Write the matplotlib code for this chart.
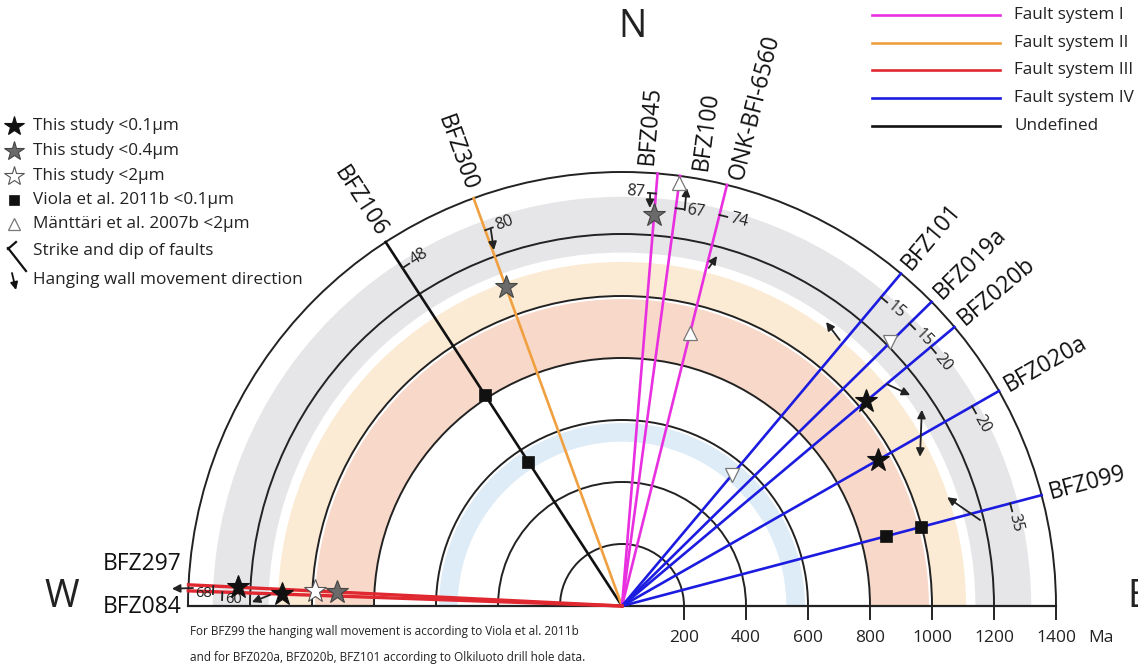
import numpy as np
import matplotlib
matplotlib.use("Agg")
import matplotlib.pyplot as plt
from matplotlib.patches import Wedge, Arc

plt.rcParams['font.family'] = ['Open Sans', 'DejaVu Sans']

# age rings (Ma) and coloured age bands
rings = [200, 400, 600, 800, 1000, 1200, 1400]
band_inner = [530, 800, 1000, 1140]
band_outer = [590, 990, 1110, 1320]
band_colors = ["#deecf8", "#f8d8c8", "#fcebd4", "#e6e6e8"]

# faults: strike azimuth (deg from N), fault system, dip
faults = ["BFZ106", "BFZ300", "BFZ045", "BFZ100", "ONK-BFI-6560", "BFZ101",
          "BFZ019a", "BFZ020b", "BFZ020a", "BFZ099", "BFZ297", "BFZ084"]
strikes = [327, 340, 4.7, 7.7, 14, 40, 45.5, 50, 60.3, 75.2, 272.8, 272.0]
systems = ["U", "II", "I", "I", "I", "IV", "IV", "IV", "IV", "IV", "III", "III"]
dips = [48, 80, 87, 67, 74, 15, 15, 20, 20, 35, 68, 60]
dip_age = [1300, 1290, 1335, 1295, 1300, 1300, 1300, 1300, 1300, 1295, 1320, 1290]
dip_side = [-1, -1, 1, -1, -1, -1, -1, -1, -1, -1, 1, 1]
# sideways nudge of the name labels (px, counter-clockwise positive)
name_shift = [0, 0, 11, -20, -8, 0, 0, 0, 0, 0, 0, 0]

sys_names = ["I", "II", "III", "IV", "U"]
sys_labels = ["Fault system I", "Fault system II", "Fault system III",
              "Fault system IV", "Undefined"]
sys_colors = ["#e830e0", "#f0a040", "#e02830", "#1c1ce0", "#111111"]

# dated samples: fault index, age (Ma), kind
sample_fault = [0, 0, 1, 2, 3, 4, 6, 5, 7, 8, 9, 9, 10, 10, 10, 11]
sample_age = [813, 555, 1094, 1265, 1378, 909, 1214, 551, 1028, 950, 880, 999,
              1240, 990, 920, 1097]
sample_kind = ["sq", "sq", "s04", "s04", "tri", "tri", "trid", "trid", "s01",
               "s01", "sq", "sq", "s01", "s2", "s04", "s01"]

# hanging wall movement arrows: (azimuth, age) start and end
arrow_from = [(340.8, 1287), (3.9, 1335), (9.0, 1293), (14.4, 1126),
              (39.3, 1109), (50.1, 1115), (76.5, 1188), (272.4, 1385),
              (271.8, 1136)]
arrow_to = [(340.2, 1220), (4.0, 1287), (8.8, 1365), (15.2, 1170),
            (35.7, 1128), (53.8, 1152), (71.5, 1106), (272.2, 1453),
            (270.6, 1194)]
double_arrows = [((56.8, 1156), (63.4, 1075))]

axis_ticks = [200, 400, 600, 800, 1000, 1200, 1400]

K = 0.31  # pixels per Ma
W, H = 1138, 665
CX, CY = 622, 606
NAME_FS = 16.5
LEG_FS = 12.3


def polar(az, age):
    a = np.radians(az)
    return age * np.sin(a), age * np.cos(a)


def pxd(x, y):
    return (x - CX) / K, (CY - y) / K


fig = plt.figure(figsize=(W / 100, H / 100), dpi=100)
ax = fig.add_axes([0, 0, 1, 1])
ax.set_xlim(-CX / K, (W - CX) / K)
ax.set_ylim(-(H - CY) / K, CY / K)
ax.axis("off")

for r0, r1, c in zip(band_inner, band_outer, band_colors):
    ax.add_patch(Wedge((0, 0), r1, 0, 180, width=r1 - r0, color=c, lw=0, zorder=1))
for r in rings:
    ax.add_patch(Arc((0, 0), 2 * r, 2 * r, theta1=0, theta2=180, color="#222222",
                     lw=1.4, zorder=2))

ax.plot([-1400, 1400], [0, 0], color="#222222", lw=1.6, zorder=2)
for t in axis_ticks:
    ax.plot([t, t], [0, -13 / K], color="#222222", lw=1.4, zorder=2)
    ax.text(t, -32 / K, str(t), ha="center", va="center", fontsize=12.5, color="#222222")
ax.text(*pxd(1101, 638), "Ma", ha="center", va="center", fontsize=12.5, color="#222222")

# fault traces, dip ticks and names
for i, name in enumerate(faults):
    col = sys_colors[sys_names.index(systems[i])]
    ex, ey = polar(strikes[i], 1400)
    lw = 2.4 if systems[i] == "III" else 1.9
    ax.plot([0, ex], [0, ey], color=col, lw=lw, zorder=3)
    ang = 90 - strikes[i]
    ang = (ang + 180) % 360 - 180
    if ang < -90:
        ang += 360
    # strike and dip tick
    px_, py_ = polar(strikes[i], dip_age[i])
    d = np.radians(ang + dip_side[i] * 90)
    tl = 8 / K
    ax.plot([px_, px_ + tl * np.cos(d)], [py_, py_ + tl * np.sin(d)],
            color="#222222", lw=1.3, zorder=4)
    rot = ang - 90
    tx, ty = px_ + (tl + 3 / K) * np.cos(d), py_ + (tl + 3 / K) * np.sin(d)
    if systems[i] == "III":
        # west-side dips sit under the traces, either side of their ticks
        first = name == "BFZ297"
        ax.text(px_ + (-1.5 if first else 2.5) / K, py_ - 7 / K, str(dips[i]),
                ha="right" if first else "left", va="center",
                fontsize=10.5, color="#222222", zorder=5)
    elif dip_side[i] < 0:
        ax.text(tx, ty, str(dips[i]), ha="left", va="center", rotation=rot,
                rotation_mode="anchor", fontsize=11.5, color="#222222", zorder=5)
    else:
        ax.text(tx, ty, str(dips[i]), ha="right", va="center", rotation=rot,
                rotation_mode="anchor", fontsize=11.5, color="#222222", zorder=5)
    # fault name
    if systems[i] == "III":
        continue
    lx, ly = polar(strikes[i], 1400 + 8 / K)
    n = np.radians(ang + 90)
    lx += name_shift[i] / K * np.cos(n)
    ly += name_shift[i] / K * np.sin(n)
    if ang <= 90:
        ax.text(lx, ly, name, rotation=ang, ha="left", va="center",
                rotation_mode="anchor", fontsize=NAME_FS, color="#111111")
    else:
        ax.text(lx, ly, name, rotation=ang - 180, ha="right", va="center",
                rotation_mode="anchor", fontsize=NAME_FS, color="#111111")

ax.text(*pxd(181, 564), "BFZ297", ha="right", va="center", fontsize=NAME_FS, color="#111111")
ax.text(*pxd(181, 607), "BFZ084", ha="right", va="center", fontsize=NAME_FS, color="#111111")

# hanging wall movement arrows
for a, b in zip(arrow_from, arrow_to):
    ax.annotate("", xy=polar(*b), xytext=polar(*a),
                arrowprops=dict(arrowstyle="-|>", color="#222222", lw=1.3,
                                mutation_scale=12, shrinkA=0, shrinkB=0), zorder=6)
for a, b in double_arrows:
    ax.annotate("", xy=polar(*b), xytext=polar(*a),
                arrowprops=dict(arrowstyle="<|-|>", color="#222222", lw=1.3,
                                mutation_scale=12, shrinkA=0, shrinkB=0), zorder=6)

# sample symbols
styles = {
    "s01": dict(marker="*", ms=17, mfc="#111111", mec="#111111", mew=0.8),
    "s04": dict(marker="*", ms=17, mfc="#6a6a6a", mec="#444444", mew=0.8),
    "s2": dict(marker="*", ms=17, mfc="white", mec="#555555", mew=0.8),
    "sq": dict(marker="s", ms=8.5, mfc="#111111", mec="#111111", mew=0.5),
    "tri": dict(marker="^", ms=10, mfc="white", mec="#777777", mew=0.9),
    "trid": dict(marker="v", ms=10, mfc="white", mec="#777777", mew=0.9),
}
for f, age, kind in zip(sample_fault, sample_age, sample_kind):
    x, y = polar(strikes[f], age)
    ax.plot(x, y, linestyle="none", zorder=7, **styles[kind])

# compass letters
ax.text(*pxd(632, 27), "N", ha="center", va="center", fontsize=27, color="#222222")
ax.text(*pxd(62, 597), "W", ha="center", va="center", fontsize=27, color="#222222")
ax.text(*pxd(1138, 597), "E", ha="center", va="center", fontsize=27, color="#222222")

# symbol legend
sym_labels = ["This study <0.1µm", "This study <0.4µm", "This study <2µm",
              "Viola et al. 2011b <0.1µm", "Mänttäri et al. 2007b <2µm"]
sym_kinds = ["s01", "s04", "s2", "sq", "tri"]
rows = [126, 151, 176, 200, 224]
for lab, kind, yy in zip(sym_labels, sym_kinds, rows):
    st = dict(styles[kind])
    st["ms"] = st["ms"] * 0.85
    ax.plot(*pxd(14, yy), linestyle="none", **st)
    ax.text(*pxd(33, yy), lab, ha="left", va="center", fontsize=LEG_FS, color="#222222")
ax.plot(*zip(pxd(8, 248), pxd(26, 271)), color="#111111", lw=1.6)
ax.plot(*zip(pxd(8, 249), pxd(16, 242)), color="#111111", lw=1.6)
ax.text(*pxd(33, 251), "Strike and dip of faults", ha="left", va="center",
        fontsize=LEG_FS, color="#222222")
ax.annotate("", xy=pxd(16, 290), xytext=pxd(12, 273),
            arrowprops=dict(arrowstyle="-|>", color="#111111", lw=1.3,
                            mutation_scale=11, shrinkA=0, shrinkB=0))
ax.text(*pxd(33, 280), "Hanging wall movement direction", ha="left", va="center",
        fontsize=LEG_FS, color="#222222")

# fault system legend
for k, (lab, col) in enumerate(zip(sys_labels, sys_colors)):
    yy = 15 + k * 27.7
    ax.plot(*zip(pxd(872, yy), pxd(1000, yy)), color=col, lw=1.9)
    ax.text(*pxd(1014, yy), lab, ha="left", va="center", fontsize=LEG_FS, color="#222222")

ax.text(*pxd(190, 632), "For BFZ99 the hanging wall movement is according to Viola et al. 2011b",
        ha="left", va="center", fontsize=8.5, color="#222222")
ax.text(*pxd(190, 657), "and for BFZ020a, BFZ020b, BFZ101 according to Olkiluoto drill hole data.",
        ha="left", va="center", fontsize=8.5, color="#222222")

fig.savefig("out.png", dpi=100, facecolor="white")
